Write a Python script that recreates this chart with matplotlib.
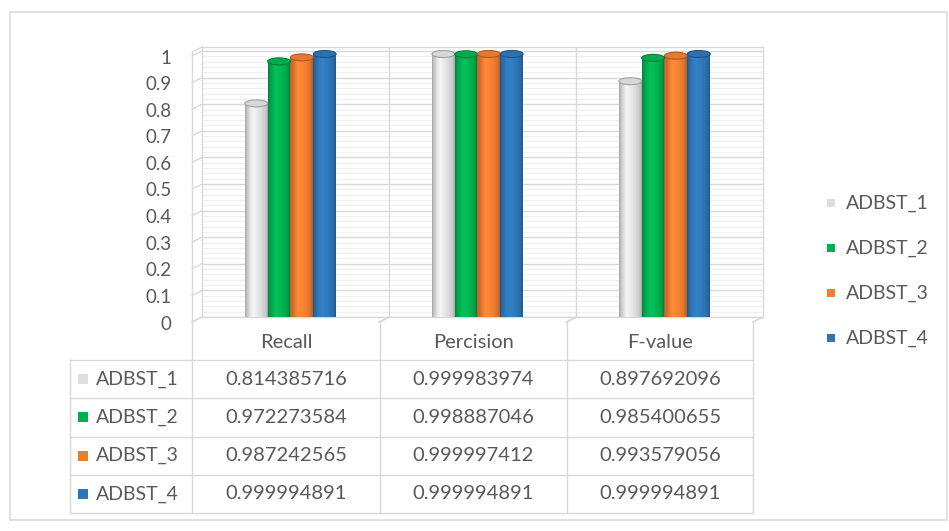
import numpy as np
import matplotlib.pyplot as plt
from matplotlib.patches import Rectangle, Ellipse
from matplotlib.colors import to_rgb
from matplotlib.transforms import ScaledTranslation

plt.rcParams['font.family'] = ['Lato', 'DejaVu Sans']

categories = ["Recall", "Percision", "F-value"]
series_names = ["ADBST_1", "ADBST_2", "ADBST_3", "ADBST_4"]
adbst_1 = [0.814385716, 0.999983974, 0.897692096]
adbst_2 = [0.972273584, 0.998887046, 0.985400655]
adbst_3 = [0.987242565, 0.999997412, 0.993579056]
adbst_4 = [0.999994891, 0.999994891, 0.999994891]
series = [adbst_1, adbst_2, adbst_3, adbst_4]
colors = ["#dedede", "#00b050", "#ed7d31", "#2e75b6"]
y_ticks = [0, 0.1, 0.2, 0.3, 0.4, 0.5, 0.6, 0.7, 0.8, 0.9, 1]
y_labels = ["0", "0.1", "0.2", "0.3", "0.4", "0.5", "0.6", "0.7", "0.8", "0.9", "1"]

W, H = 949, 531
GRID = "#d9d9d9"
TXT = "#595959"


def fx(px):
    return px / W


def fy(py):
    return 1 - py / H


fig = plt.figure(figsize=(W / 100, H / 100), dpi=100)

# back wall of the 3d plot
wall_l, wall_r, wall_b, wall_t = 202, 763, 317, 47
px_per_unit = 266
ax = fig.add_axes([fx(wall_l), fy(wall_b), fx(wall_r - wall_l), (wall_b - wall_t) / H])
ax.set_xlim(-0.5, 2.5)
ax.set_ylim(0, (wall_b - wall_t) / px_per_unit)
ax.set_yticks(y_ticks)
ax.set_yticklabels(y_labels, fontsize=13.5, color=TXT)
ax.set_yticks(np.arange(0, 1.01, 0.02), minor=True)
ax.set_xticks([])
ax.tick_params(axis="y", which="both", length=0, pad=22)
# axis labels sit on the front edge of the side wall, a little lower
for lab in ax.get_yticklabels():
    lab.set_transform(lab.get_transform() + ScaledTranslation(0, -0.055, fig.dpi_scale_trans))
ax.grid(which="minor", axis="y", color="#efefef", lw=0.8)
ax.grid(which="major", axis="y", color=GRID, lw=1.0)
for xb in [0.5, 1.5]:
    ax.axvline(xb, color=GRID, lw=1.0)
for s in ax.spines.values():
    s.set_color(GRID)
    s.set_linewidth(1.0)
ax.set_axisbelow(True)

# depth of the 3d box in data units
px_x = 187
dx = 10 / px_x
dy = 5 / px_per_unit
top = ax.get_ylim()[1]

# left wall + floor edges
ax.plot([-0.5 - dx, -0.5 - dx], [-dy, top - dy], color=GRID, lw=1.0, clip_on=False)
for v in y_ticks + [top]:
    ax.plot([-0.5, -0.5 - dx], [v, v - dy], color=GRID, lw=1.0, clip_on=False)
for xb in [0.5, 1.5, 2.5]:
    ax.plot([xb, xb - dx], [0, -dy], color=GRID, lw=1.0, clip_on=False)

# cylinders
bw = 0.122
n_strips = 22
t = (np.arange(n_strips) + 0.5) / n_strips
shade = 0.66 + 0.38 * np.sin(np.pi * t) ** 0.45 + 0.07 * np.exp(-((t - 0.35) / 0.15) ** 2)
x_off = -dx / 2
y_off = -3 / px_per_unit
cap_h = 7 / px_per_unit

for j, (vals, col) in enumerate(zip(series, colors)):
    base = np.array(to_rgb(col))
    strip_cols = [np.clip(base * s, 0, 1) for s in shade]
    for i, v in enumerate(vals):
        xc = i + (j - 1.5) * bw + x_off
        x_left = xc - bw / 2
        ax.add_patch(Ellipse((xc, y_off), bw, cap_h, facecolor=np.clip(base * 0.85, 0, 1),
                             edgecolor="none", zorder=3))
        ax.bar(x_left + t * bw, v, width=bw / n_strips * 1.1, bottom=y_off,
               color=strip_cols, linewidth=0, zorder=4)
        ax.add_patch(Ellipse((xc, v + y_off), bw, cap_h, facecolor=np.clip(base * 0.97, 0, 1),
                             edgecolor=np.clip(base * 0.72, 0, 1), lw=0.8, zorder=5))

# data table under the plot
col_x = [70, 192, 380, 567, 753]
head_top, head_bot = 322, 360
row_h = 38.25
row_y = [head_bot + k * row_h for k in range(len(series) + 1)]

for xb in col_x[1:]:
    fig.add_artist(plt.Line2D([fx(xb), fx(xb)], [fy(head_top), fy(row_y[-1])], color=GRID, lw=1.0))
    fig.add_artist(plt.Line2D([fx(xb), fx(xb + 10)], [fy(head_top), fy(head_top - 5)], color=GRID, lw=1.0))
fig.add_artist(plt.Line2D([fx(col_x[0])] * 2, [fy(row_y[0]), fy(row_y[-1])], color=GRID, lw=1.0))
for yb in row_y:
    fig.add_artist(plt.Line2D([fx(col_x[0]), fx(col_x[-1])], [fy(yb), fy(yb)], color=GRID, lw=1.0))

for i, cat in enumerate(categories):
    cx = (col_x[i + 1] + col_x[i + 2]) / 2
    fig.text(fx(cx), fy((head_top + head_bot) / 2 + 1), cat, ha="center", va="center",
             fontsize=14.5, color=TXT)

for j, (name, vals, col) in enumerate(zip(series_names, series, colors)):
    cy = (row_y[j] + row_y[j + 1]) / 2
    fig.add_artist(Rectangle((fx(78), fy(cy + 5)), fx(10), 10 / H, facecolor=col, edgecolor="none"))
    fig.text(fx(96), fy(cy), name, ha="left", va="center", fontsize=14, color=TXT)
    for i, v in enumerate(vals):
        cx = (col_x[i + 1] + col_x[i + 2]) / 2
        fig.text(fx(cx), fy(cy), f"{v:.9f}", ha="center", va="center", fontsize=14.5, color=TXT)

# legend on the right
for j, (name, col) in enumerate(zip(series_names, colors)):
    cy = 203 + j * 45
    fig.add_artist(Rectangle((fx(827), fy(cy + 4)), fx(8), 8 / H, facecolor=col, edgecolor="none"))
    fig.text(fx(846), fy(cy), name, ha="left", va="center", fontsize=14, color=TXT)

# chart frame
fig.add_artist(Rectangle((fx(10), fy(520)), fx(937), 508 / H, facecolor="none",
                         edgecolor="#dcdcdc", lw=1.2))

fig.savefig("out.png", dpi=100)
